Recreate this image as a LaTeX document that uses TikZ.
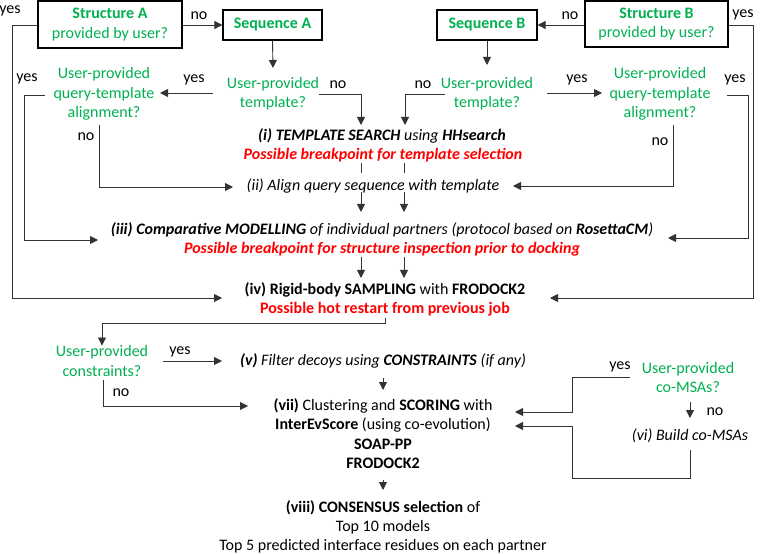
\documentclass[tikz,border=0pt]{standalone}
\usepackage{fontspec}
\setmainfont{Carlito}
\usetikzlibrary{arrows.meta}
\definecolor{qgreen}{HTML}{00B050}
\definecolor{lred}{HTML}{FF0000}
\definecolor{lgray}{HTML}{333333}
\begin{document}
\begin{tikzpicture}[x=1bp,y=-1bp,
  every node/.style={font=\fontsize{16bp}{19.3bp}\selectfont, inner sep=0pt, align=center},
  qtext/.style={text=qgreen},
  rtext/.style={text=lred},
  qbox/.style={draw=black, line width=1.3bp, text=qgreen},
  arr/.style={-{Triangle[length=8bp,width=8bp]}, line width=0.9bp, draw=lgray},
  ln/.style={line width=0.9bp, draw=lgray},
  lab/.style={text=black}]
\useasboundingbox (0,0) rectangle (760,554);

% boxes
\node[qbox, minimum width=144bp, minimum height=47bp] (strA) at (110,24.5) {\textbf{Structure A}\\provided by user?};
\node[qbox, minimum width=99bp, minimum height=30bp] (seqA) at (272.5,25) {\textbf{Sequence A}};
\node[qbox, minimum width=100bp, minimum height=30bp] (seqB) at (487,25) {\textbf{Sequence B}};
\node[qbox, minimum width=143bp, minimum height=46bp] (strB) at (656.5,24) {\textbf{Structure B}\\provided by user?};

% questions
\node[qtext] (tplA) at (273,94) {User-provided\\template?};
\node[qtext] (alnA) at (104,94) {User-provided\\query-template\\alignment?};
\node[qtext] (tplB) at (487,94) {User-provided\\template?};
\node[qtext] (alnB) at (660,94) {User-provided\\query-template\\alignment?};
\node[qtext] (cons) at (102,361) {User-provided\\constraints?};
\node[qtext] (msa) at (688,377.5) {User-provided\\co-MSAs?};

% steps
\node (si) at (382,136) {\textbf{\textit{(i) TEMPLATE SEARCH}} \textit{using} \textbf{\textit{HHsearch}}};
\node[rtext] (sired) at (383,155) {\textbf{\textit{Possible breakpoint for template selection}}};
\node (sii) at (373,186) {\textit{(ii) Align query sequence with template}};
\node (siii) at (382,230) {\textbf{\textit{(iii) Comparative MODELLING}} \textit{of individual partners (protocol based on} \textbf{\textit{RosettaCM}}\textit{)}};
\node[rtext] (siiired) at (382,249) {\textbf{\textit{Possible breakpoint for structure inspection prior to docking}}};
\node (siv) at (385,290) {\textbf{(iv) Rigid-body SAMPLING} with \textbf{FRODOCK2}};
\node[rtext] (sivred) at (385,309) {\textbf{Possible hot restart from previous job}};
\node (sv) at (383,361) {\textbf{\textit{(v)}} \textit{Filter decoys using} \textbf{\textit{CONSTRAINTS}} \textit{(if any)}};
\node (svii) at (383,433.5) {\textbf{(vii)} Clustering and \textbf{SCORING} with\\\textbf{InterEvScore} (using co-evolution)\\\textbf{SOAP-PP}\\\textbf{FRODOCK2}};
\node (sviii) at (383,527) {\textbf{(viii) CONSENSUS selection} of\\Top 10 models\\Top 5 predicted interface residues on each partner};
\node (svi) at (690,436) {\textit{(vi) Build co-MSAs}};

% labels
\node[lab] (l1) at (10,11) {yes};
\node[lab] (l2) at (199,16) {no};
\node[lab] (l3) at (194,80) {yes};
\node[lab] (l4) at (338,85) {no};
\node[lab] (l5) at (27,79) {yes};
\node[lab] (l6) at (86,137) {no};
\node[lab] (l7) at (570,16) {no};
\node[lab] (l8) at (743,15) {yes};
\node[lab] (l9) at (423,85) {no};
\node[lab] (l10) at (577,80) {yes};
\node[lab] (l11) at (735,80) {yes};
\node[lab] (l12) at (660,142) {no};
\node[lab] (l13) at (180,352) {yes};
\node[lab] (l14) at (121,393) {no};
\node[lab] (l15) at (620,367) {yes};
\node[lab] (l16) at (715,412) {no};

% target coordinates
\coordinate (ivL) at (222,298);
\coordinate (ivR) at (550,298);
\coordinate (iTA) at (361,125);
\coordinate (iTB) at (405,125);
\coordinate (iiL) at (233,187);
\coordinate (iiR) at (513,186);
\coordinate (iiiL) at (98,240);
\coordinate (iiiR) at (668,238);
\coordinate (vL) at (222,361);
\coordinate (viiL) at (248,406);
\coordinate (viiR1) at (515,412);
\coordinate (viiR2) at (515,426);

% connectors
\draw[arr] (strA.west |- 0,25) -- (12,25) |- (ivL);
\draw[arr] (strA.east |- 0,25) -- (seqA.west);
\draw[arr] (seqA.south) -- (273,68);
\draw[arr] (213,93) -- (160,93);
\draw[arr] (319,94) -| (iTA);
\draw[arr] (45,95) -- (24,95) |- (iiiL);
\draw[arr] (99,125) |- (iiL);
\draw[arr] (strB.west |- 0,25) -- (seqB.east);
\draw[arr] (strB.east |- 0,25) -- (753,25) |- (ivR);
\draw[arr] (seqB.south) -- (487,65);
\draw[arr] (445,94) -| (iTB);
\draw[arr] (547,93) -- (602,93);
\draw[arr] (727,95) -- (748,95) |- (iiiR);
\draw[arr] (673,125) |- (iiR);
\draw[ln] (361,163) -- (361,173);
\draw[ln] (404,163) -- (404,173);
\draw[arr] (361,192) -- (361,212);
\draw[arr] (404,192) -- (404,212);
\draw[arr] (361,257) -- (361,278);
\draw[arr] (404,257) -- (404,278);
\draw[arr] (385,318) -- (385,323) -| (cons.north);
\draw[arr] (163,361) -- (vL);
\draw[arr] (103,380) |- (viiL);
\draw[arr] (383,378) -- (383,390);
\draw[arr] (630,377) -- (572,377) |- (viiR1);
\draw[arr] (690,402) -- (690,418);
\draw[arr] (690,450) -- (690,478) -- (572,478) |- (viiR2);
\draw[arr] (383,480) -- (383,490);
\end{tikzpicture}
\end{document}
